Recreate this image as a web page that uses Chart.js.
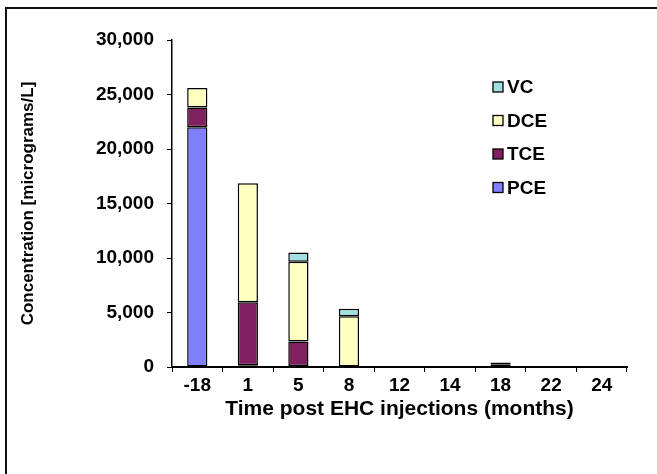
<!DOCTYPE html>
<html>
<head>
<meta charset="utf-8">
<script src="https://cdn.jsdelivr.net/npm/chart.js@4.4.1/dist/chart.umd.min.js"></script>
<style>
  html, body { margin: 0; padding: 0; background: #fff; overflow: hidden; }
  #frame { position: absolute; left: 5px; top: 7px; width: 700px; height: 520px; border: 2px solid #111; box-sizing: border-box; }
  #wrap { position: absolute; left: 0; top: 0; width: 657px; height: 474px; }
</style>
</head>
<body>
<div id="frame"></div>
<div id="wrap"><canvas id="c" width="657" height="474"></canvas></div>
<script>
const categories = ["-18", "1", "5", "8", "12", "14", "18", "22", "24"];
const pce = [22000, 150, 100, 0, 30, 20, 60, 20, 20];
const tce = [1800, 5800, 2250, 0, 30, 20, 150, 20, 20];
const dce = [1800, 10900, 7300, 4650, 30, 20, 200, 20, 20];
const vc  = [0, 0, 850, 700, 0, 0, 0, 0, 0];
const yTicks = [0, 5000, 10000, 15000, 20000, 25000, 30000];

const FONT = "'Liberation Sans', Arial, sans-serif";
const AREA = { left: 172, top: 40, right: 627, bottom: 367 };

const legendPlugin = {
  id: 'customLegend',
  afterDraw(chart) {
    const ctx = chart.ctx;
    const items = chart.data.datasets.slice().reverse();
    const x0 = 493, y0 = 87, gap = 33.5;
    ctx.save();
    ctx.font = "bold 19px " + FONT;
    ctx.textBaseline = 'middle';
    items.forEach((ds, i) => {
      const y = y0 + i * gap;
      ctx.fillStyle = ds.backgroundColor;
      ctx.fillRect(x0, y - 5, 10, 10);
      ctx.strokeStyle = '#000';
      ctx.lineWidth = 1.3;
      ctx.strokeRect(x0, y - 5, 10, 10);
      ctx.fillStyle = '#000';
      ctx.fillText(ds.label, x0 + 14, y + 1);
    });
    ctx.restore();
  }
};

const mk = (label, data, color) => ({
  label, data, backgroundColor: color, borderColor: '#000', borderWidth: 1.5,
  borderSkipped: false, barPercentage: 0.4, categoryPercentage: 1.0
});

new Chart(document.getElementById('c'), {
  type: 'bar',
  data: {
    labels: categories,
    datasets: [
      mk('PCE', pce, '#8080FF'),
      mk('TCE', tce, '#802060'),
      mk('DCE', dce, '#FFFFC0'),
      mk('VC', vc, '#A0E0E0')
    ]
  },
  options: {
    responsive: false,
    animation: false,
    events: [],
    layout: { padding: { left: 18, top: AREA.top, right: 657 - AREA.right, bottom: 52 } },
    plugins: { legend: { display: false }, tooltip: { enabled: false } },
    scales: {
      x: {
        stacked: true,
        afterFit(scale) { scale.height = 474 - 52 - AREA.bottom; },
        grid: { display: true, drawOnChartArea: false, drawTicks: true, tickLength: 5, color: '#000', offset: true },
        border: { color: '#000', width: 2 },
        ticks: { color: '#000', font: { family: FONT, size: 19, weight: 'bold' }, padding: 2, maxRotation: 0, autoSkip: false },
        title: { display: true, text: 'Time post EHC injections (months)', color: '#000', font: { family: FONT, size: 21, weight: 'bold' }, padding: { top: 0, bottom: 0 } }
      },
      y: {
        stacked: true,
        min: 0, max: 30000,
        afterFit(scale) { scale.width = AREA.left - 18; },
        afterBuildTicks(scale) { scale.ticks = yTicks.map(v => ({ value: v })); },
        grid: { display: true, drawOnChartArea: false, drawTicks: true, tickLength: 5, color: '#000' },
        border: { color: '#000', width: 1.5 },
        ticks: { color: '#000', font: { family: FONT, size: 19, weight: 'bold' }, padding: 13,
          callback: v => v.toLocaleString('en-US') },
        title: { display: true, text: 'Concentration [micrograms/L]', color: '#000', font: { family: FONT, size: 17, weight: 'bold' }, padding: { top: 0, bottom: 0 } }
      }
    }
  },
  plugins: [legendPlugin]
});
</script>
</body>
</html>
